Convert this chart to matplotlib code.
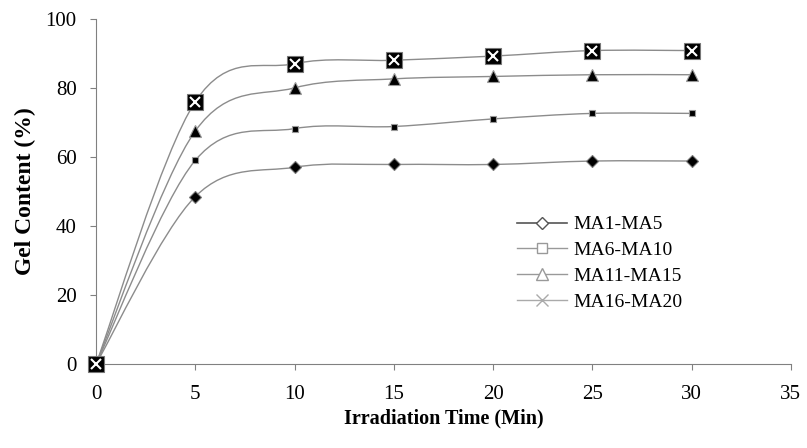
import matplotlib
matplotlib.use('Agg')
import matplotlib.pyplot as plt
from matplotlib.path import Path
from matplotlib.patches import PathPatch
from matplotlib.lines import Line2D

# data
time_min = [0, 5, 10, 15, 20, 25, 30]
ma1_ma5 = [0, 48.5, 57, 57.8, 57.8, 58.8, 58.8]
ma6_ma10 = [0, 59, 68.2, 68.8, 71, 72.6, 72.6]
ma11_ma15 = [0, 67.5, 80, 82.6, 83.3, 83.8, 83.8]
ma16_ma20 = [0, 76, 87, 88, 89.2, 90.8, 90.8]
labels = ['MA1-MA5', 'MA6-MA10', 'MA11-MA15', 'MA16-MA20']

plt.rcParams['font.family'] = 'Liberation Serif'
line_grey = '#8c8c8c'


def smooth_path(xs, ys):
    # catmull-rom style bezier, like excel's smoothed line
    pts = list(zip(xs, ys))
    verts = [pts[0]]
    codes = [Path.MOVETO]
    n = len(pts)
    for i in range(n - 1):
        p0 = pts[i - 1] if i > 0 else pts[i]
        p1 = pts[i]
        p2 = pts[i + 1]
        p3 = pts[i + 2] if i + 2 < n else pts[i + 1]
        c1 = (p1[0] + (p2[0] - p0[0]) / 6, p1[1] + (p2[1] - p0[1]) / 6)
        c2 = (p2[0] - (p3[0] - p1[0]) / 6, p2[1] - (p3[1] - p1[1]) / 6)
        verts += [c1, c2, p2]
        codes += [Path.CURVE4] * 3
    return Path(verts, codes)


fig = plt.figure(figsize=(8.07, 4.48), dpi=100)
ax = fig.add_axes([0.119, 0.1875, 0.861, 0.7705])

for ys in [ma1_ma5, ma6_ma10, ma11_ma15, ma16_ma20]:
    ax.add_patch(PathPatch(smooth_path(time_min, ys), fill=False,
                           edgecolor=line_grey, lw=1.0, zorder=2))

ax.plot(time_min, ma1_ma5, ls='none', marker='D', ms=6, mfc='black',
        mec='#777777', mew=0.8, zorder=3, clip_on=False)
ax.plot(time_min, ma6_ma10, ls='none', marker='s', ms=5, mfc='black',
        mec='#999999', mew=0.8, zorder=3, clip_on=False)
ax.plot(time_min, ma11_ma15, ls='none', marker='^', ms=8, mfc='black',
        mec='#999999', mew=0.8, zorder=3, clip_on=False)
ax.plot(time_min, ma16_ma20, ls='none', marker='s', ms=12, mfc='black',
        mec='#777777', mew=0.8, zorder=3, clip_on=False)
ax.plot(time_min, ma16_ma20, ls='none', marker='x', ms=7, mec='white',
        mew=1.5, zorder=4, clip_on=False)

ax.set_xlim(0, 35)
ax.set_ylim(0, 100)
ax.set_xticks(range(0, 36, 5))
ax.set_yticks(range(0, 101, 20))
for side in ['top', 'right']:
    ax.spines[side].set_visible(False)
for side in ['left', 'bottom']:
    ax.spines[side].set_color('#808080')
ax.tick_params(colors='#808080', labelcolor='black', labelsize=15,
               length=4, direction='out')
ax.tick_params(axis='x', pad=11)
ax.tick_params(axis='y', pad=10)

ax.set_xlabel('Irradiation Time (Min)', fontsize=14.5, fontweight='bold',
              labelpad=3)
ax.set_ylabel('Gel Content (%)', fontsize=17, fontweight='bold', labelpad=7)

handles = [
    Line2D([], [], color='#555555', lw=1.2, marker='D', ms=6, mfc='white',
           mec='#555555'),
    Line2D([], [], color='#999999', lw=1.0, marker='s', ms=7, mfc='white',
           mec='#999999'),
    Line2D([], [], color='#999999', lw=1.0, marker='^', ms=8, mfc='white',
           mec='#999999'),
    Line2D([], [], color='#aaaaaa', lw=1.0, marker='x', ms=9,
           mec='#aaaaaa'),
]
ax.legend(handles, labels, loc='upper left', bbox_to_anchor=(0.58, 0.48),
          frameon=False, fontsize=14, handlelength=2.6, labelspacing=0.42,
          handletextpad=0.3)

fig.savefig('out.png', dpi=100)
